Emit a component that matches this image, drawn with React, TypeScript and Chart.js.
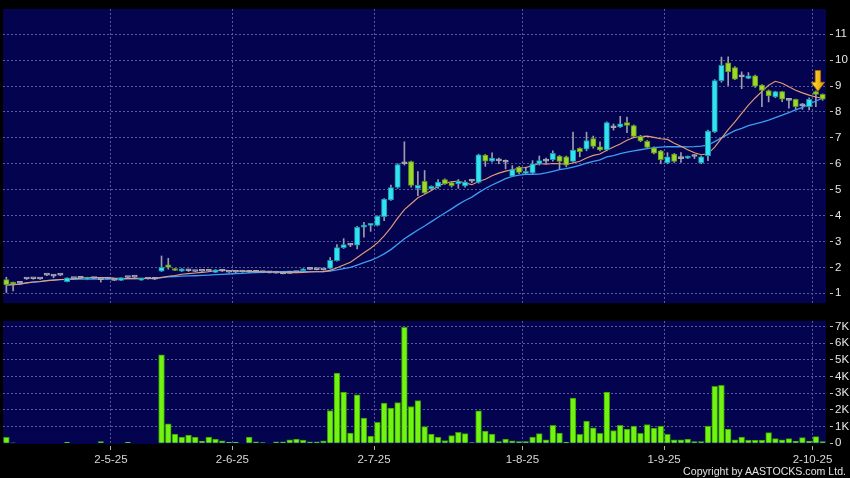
import React, { useEffect, useRef } from "react";
import { Chart, registerables } from "chart.js";

Chart.register(...registerables);

// ---- data ----
const opens = [
  1.53, 1.42, 1.38, 1.55, 1.56, 1.55, 1.70, 1.66, 1.70, 1.45,
  1.57, 1.58, 1.53, 1.57, 1.52, 1.55, 1.50, 1.50, 1.61, 1.62,
  1.51, 1.55, 1.54, 1.85, 2.10, 1.94, 1.85, 1.87, 1.84, 1.85,
  1.85, 1.80, 1.85, 1.81, 1.81, 1.82, 1.81, 1.81, 1.80, 1.79,
  1.78, 1.76, 1.77, 1.80, 1.87, 1.92, 1.91, 1.90, 1.96, 2.26,
  2.76, 2.86, 2.86, 3.55, 3.62, 3.62, 3.96, 4.60, 5.09, 6.00,
  6.08, 5.05, 5.32, 5.03, 5.12, 5.39, 5.27, 5.22, 5.14, 5.33,
  5.28, 6.34, 6.10, 6.11, 6.06, 5.52, 5.87, 5.63, 5.65, 5.98,
  6.10, 6.16, 6.30, 6.27, 6.09, 6.60, 6.56, 6.97, 6.65, 6.53,
  7.39, 7.42, 7.59, 7.47, 7.06, 6.87, 6.62, 6.50, 6.03, 6.37,
  6.20, 6.22, 6.28, 6.03, 6.31, 7.23, 9.21, 9.90, 9.71, 9.36,
  9.30, 9.40, 9.04, 8.83, 8.58, 8.79, 8.45, 8.49, 8.24, 8.20,
  8.79, 8.68,
];
const highs = [
  1.62, 1.43, 1.40, 1.56, 1.57, 1.56, 1.71, 1.70, 1.71, 1.60,
  1.58, 1.59, 1.62, 1.58, 1.55, 1.56, 1.51, 1.60, 1.62, 1.63,
  1.58, 1.56, 1.55, 2.44, 2.35, 1.96, 1.95, 1.93, 1.85, 1.86,
  1.87, 1.91, 1.90, 1.82, 1.82, 1.83, 1.83, 1.82, 1.81, 1.80,
  1.79, 1.77, 1.78, 1.81, 1.95, 1.93, 1.92, 1.91, 2.38, 2.88,
  3.11, 2.92, 3.58, 3.74, 3.70, 3.99, 4.66, 5.18, 6.00, 6.85,
  6.10, 5.70, 5.74, 5.15, 5.39, 5.42, 5.30, 5.39, 5.35, 5.39,
  6.37, 6.36, 6.42, 6.22, 6.15, 5.93, 5.90, 5.87, 6.12, 6.30,
  6.22, 6.50, 6.32, 6.30, 7.22, 6.62, 7.22, 7.07, 6.85, 7.62,
  7.54, 7.83, 7.80, 7.50, 7.10, 6.90, 6.65, 6.52, 6.43, 6.40,
  6.43, 6.30, 6.36, 6.30, 7.30, 9.25, 10.12, 10.13, 9.75, 9.55,
  9.52, 9.42, 9.06, 8.85, 8.80, 8.80, 8.52, 8.50, 8.33, 8.55,
  8.82, 8.70,
];
const lows = [
  1.03, 1.09, 1.36, 1.53, 1.54, 1.53, 1.68, 1.60, 1.68, 1.44,
  1.56, 1.57, 1.52, 1.56, 1.43, 1.54, 1.49, 1.49, 1.60, 1.61,
  1.50, 1.54, 1.53, 1.84, 1.93, 1.87, 1.84, 1.84, 1.83, 1.84,
  1.84, 1.80, 1.84, 1.80, 1.80, 1.81, 1.79, 1.80, 1.79, 1.78,
  1.77, 1.75, 1.76, 1.79, 1.86, 1.91, 1.90, 1.89, 1.94, 2.24,
  2.73, 2.80, 2.71, 3.17, 3.39, 3.60, 3.80, 4.58, 5.05, 5.95,
  5.10, 4.77, 4.85, 4.98, 5.05, 5.20, 5.10, 5.05, 5.10, 5.27,
  5.25, 5.90, 6.06, 6.00, 5.80, 5.50, 5.62, 5.60, 5.62, 5.95,
  6.00, 6.10, 5.80, 5.88, 6.05, 6.27, 6.50, 6.60, 6.50, 6.50,
  7.30, 7.40, 7.20, 7.00, 6.85, 6.60, 6.38, 6.00, 6.00, 6.05,
  6.05, 6.20, 6.20, 6.00, 6.12, 7.20, 9.15, 9.02, 9.25, 8.90,
  9.28, 8.95, 8.20, 8.39, 8.55, 8.40, 8.15, 8.10, 8.10, 8.08,
  8.20, 8.45,
];
const closes = [
  1.32, 1.35, 1.38, 1.55, 1.56, 1.55, 1.70, 1.66, 1.70, 1.60,
  1.57, 1.58, 1.61, 1.57, 1.52, 1.55, 1.50, 1.60, 1.61, 1.62,
  1.58, 1.55, 1.54, 2.00, 2.00, 1.88, 1.94, 1.87, 1.84, 1.85,
  1.85, 1.90, 1.85, 1.81, 1.81, 1.82, 1.81, 1.81, 1.80, 1.79,
  1.78, 1.76, 1.77, 1.80, 1.94, 1.92, 1.91, 1.90, 2.27, 2.76,
  2.88, 2.86, 3.55, 3.63, 3.68, 3.98, 4.64, 5.08, 5.97, 6.00,
  5.16, 5.17, 4.87, 5.13, 5.29, 5.22, 5.15, 5.33, 5.29, 5.33,
  6.35, 6.10, 6.22, 6.11, 6.06, 5.78, 5.67, 5.67, 6.00, 6.12,
  6.10, 6.40, 6.09, 5.95, 6.53, 6.47, 6.90, 6.67, 6.53, 7.59,
  7.39, 7.54, 7.48, 7.06, 6.88, 6.63, 6.41, 6.16, 6.27, 6.09,
  6.20, 6.27, 6.28, 6.27, 7.26, 9.21, 9.80, 9.55, 9.27, 9.36,
  9.40, 9.00, 8.83, 8.62, 8.79, 8.49, 8.45, 8.20, 8.24, 8.49,
  8.68, 8.49,
];
// volume in thousands
const volumes = [
  0.35, 0.02, 0, 0, 0, 0, 0, 0, 0, 0.06,
  0, 0, 0, 0, 0.1, 0, 0, 0, 0.06, 0,
  0, 0, 0, 5.3, 1.16, 0.55, 0.37, 0.49, 0.37, 0.12,
  0.37, 0.24, 0.14, 0.06, 0.06, 0, 0.37, 0.08, 0.04, 0,
  0.08, 0.08, 0.2, 0.25, 0.18, 0.08, 0.08, 0.14, 1.96, 4.2,
  3.06, 0.6, 2.9, 1.5, 0.43, 1.25, 2.4, 2.1, 2.43, 6.94,
  2.2, 2.55, 1.0, 0.55, 0.37, 0.16, 0.45, 0.65, 0.57, 0.04,
  1.94, 0.72, 0.55, 0.1, 0.24, 0.14, 0.1, 0.1, 0.37, 0.57,
  0.2, 1.07, 0.6, 0.06, 2.7, 0.53, 1.33, 0.92, 0.59, 3.06,
  0.76, 1.07, 0.84, 1.03, 0.59, 1.12, 0.9, 1.03, 0.53, 0.2,
  0.2, 0.24, 0.1, 0.1, 1.02, 3.4, 3.47, 0.84, 0.2, 0.37,
  0.18, 0.18, 0.18, 0.63, 0.27, 0.2, 0.27, 0.12, 0.33, 0.12,
  0.39, 0.1,
];
// index of the first trading day of each labelled month
const monthStartIndex = [16, 34, 55, 77, 98, 120];
const monthLabels = ["2-5-25", "2-6-25", "2-7-25", "1-8-25", "1-9-25", "2-10-25"];
const priceTicks = [1, 2, 3, 4, 5, 6, 7, 8, 9, 10, 11];
const volumeTicks = [0, 1, 2, 3, 4, 5, 6, 7];
const volumeTickLabels = ["0", "1K", "2K", "3K", "4K", "5K", "6K", "7K"];
const shortPeriod = 10;
const longPeriod = 20;
const marker = { index: 120.3, top: 9.6, neck: 9.15, tip: 8.8 };
const copyright = "Copyright by AASTOCKS.com Ltd.";

// ---- styles ----
const FONT = "'Liberation Sans', Arial, sans-serif";
const NAVY = "#03034f";
const GRID = "#5a5a98";
const UP_FILL = "#33e2f0";
const UP_EDGE = "#1796a8";
const DOWN_FILL = "#9ed82c";
const DOWN_EDGE = "#5c9618";
const FLAT = "#a6a6b6";
const WICK = "#9c9cac";
const MA_SHORT = "#e89c78";
const MA_LONG = "#3d9df2";
const VOL_FILL = "#70f410";
const VOL_EDGE = "#389606";
const LABEL = "#e6e6e6";

function movingAverage(values: number[], period: number) {
  return values.map((_, i) => {
    const from = Math.max(0, i - period + 1);
    let s = 0;
    for (let k = from; k <= i; k++) s += values[k];
    return s / (i - from + 1);
  });
}

const bgPlugin = {
  id: "panelBg",
  beforeDraw(chart: any) {
    const { ctx, chartArea } = chart;
    ctx.save();
    ctx.fillStyle = NAVY;
    ctx.fillRect(chartArea.left, chartArea.top, chartArea.right - chartArea.left, chartArea.bottom - chartArea.top);
    ctx.restore();
  },
};

const markerPlugin = {
  id: "marker",
  afterDatasetsDraw(chart: any) {
    const { ctx, scales } = chart;
    const cx = scales.x.getPixelForValue(marker.index);
    const yTop = scales.y.getPixelForValue(marker.top);
    const yNeck = scales.y.getPixelForValue(marker.neck);
    const yTip = scales.y.getPixelForValue(marker.tip);
    const shaft = 2.7;
    const head = 6.8;
    ctx.save();
    const g = ctx.createLinearGradient(cx - head, 0, cx + head, 0);
    g.addColorStop(0, "#ffe23a");
    g.addColorStop(1, "#e49a00");
    ctx.beginPath();
    ctx.moveTo(cx - shaft, yTop);
    ctx.lineTo(cx + shaft, yTop);
    ctx.lineTo(cx + shaft, yNeck);
    ctx.lineTo(cx + head, yNeck);
    ctx.lineTo(cx, yTip);
    ctx.lineTo(cx - head, yNeck);
    ctx.lineTo(cx - shaft, yNeck);
    ctx.closePath();
    ctx.fillStyle = g;
    ctx.fill();
    ctx.lineWidth = 0.8;
    ctx.strokeStyle = "#a87000";
    ctx.stroke();
    ctx.restore();
  },
};

export default function App() {
  const priceRef = useRef<HTMLCanvasElement | null>(null);
  const volRef = useRef<HTMLCanvasElement | null>(null);

  useEffect(() => {
    const n = closes.length;
    const idx = closes.map((_, i) => i);
    const kind = idx.map((i) => (closes[i] > opens[i] ? "up" : closes[i] < opens[i] ? "down" : "flat"));
    const maShort = movingAverage(closes, shortPeriod);
    const maLong = movingAverage(closes, longPeriod);

    const xMin = -0.5;
    const xMax = n - 0.5;
    const monthBounds = monthStartIndex.map((i) => i - 0.5);

    const gridCommon = { color: GRID, lineWidth: 1, offset: false };
    const yTickMarks = {
      drawTicks: true,
      tickLength: 7,
      tickColor: "#c0c0c0",
      tickBorderDash: [0, 4, 3, 30],
    };

    const priceChart = new Chart(priceRef.current as HTMLCanvasElement, {
      type: "bar",
      data: {
        datasets: [
          {
            type: "bar",
            data: idx.map((i) => ({ x: i, y: [lows[i], highs[i]] })) as any,
            backgroundColor: WICK,
            borderWidth: 0,
            barThickness: 1,
            grouped: false,
            order: 4,
          } as any,
          {
            type: "line",
            data: idx.map((i) => ({ x: i, y: maLong[i] })),
            borderColor: MA_LONG,
            borderWidth: 1.3,
            pointRadius: 0,
            tension: 0,
            order: 3,
          } as any,
          {
            type: "line",
            data: idx.map((i) => ({ x: i, y: maShort[i] })),
            borderColor: MA_SHORT,
            borderWidth: 1.1,
            pointRadius: 0,
            tension: 0,
            order: 2,
          } as any,
          {
            type: "bar",
            data: idx.map((i) => ({ x: i, y: [opens[i], closes[i]] })) as any,
            backgroundColor: kind.map((k) => (k === "up" ? UP_FILL : k === "down" ? DOWN_FILL : FLAT)),
            borderColor: kind.map((k) => (k === "up" ? UP_EDGE : k === "down" ? DOWN_EDGE : FLAT)),
            borderWidth: 1,
            borderSkipped: false,
            barThickness: 5.4,
            minBarLength: 2,
            grouped: false,
            order: 1,
          } as any,
        ],
      },
      options: {
        responsive: false,
        animation: false,
        devicePixelRatio: 1,
        events: [],
        layout: { padding: { left: 3, top: 5, right: 0, bottom: 6 } },
        plugins: { legend: { display: false }, tooltip: { enabled: false } },
        scales: {
          x: {
            type: "linear",
            min: xMin,
            max: xMax,
            offset: false,
            afterBuildTicks: (s: any) => {
              s.ticks = monthBounds.map((v) => ({ value: v }));
            },
            afterFit: (s: any) => {
              s.height = 0;
            },
            ticks: { display: false },
            grid: { ...gridCommon, drawTicks: false },
            border: { display: false, dash: [2, 2] },
          },
          y: {
            type: "linear",
            position: "right",
            min: 0.62,
            max: 11.98,
            afterBuildTicks: (s: any) => {
              s.ticks = priceTicks.map((v) => ({ value: v }));
            },
            afterFit: (s: any) => {
              s.width = 24;
            },
            ticks: {
              color: LABEL,
              font: { family: FONT, size: 11.5 },
              padding: 2,
              callback: (v: any) => String(v),
            },
            grid: { ...gridCommon, ...yTickMarks },
            border: { display: false, dash: [2, 2] },
          },
        },
      } as any,
      plugins: [bgPlugin, markerPlugin],
    });

    const volChart = new Chart(volRef.current as HTMLCanvasElement, {
      type: "bar",
      data: {
        datasets: [
          {
            data: idx.map((i) => ({ x: i, y: volumes[i] })),
            backgroundColor: VOL_FILL,
            borderColor: VOL_EDGE,
            borderWidth: 1,
            borderSkipped: "start",
            barThickness: 5.8,
            grouped: false,
          } as any,
        ],
      },
      options: {
        responsive: false,
        animation: false,
        devicePixelRatio: 1,
        events: [],
        layout: { padding: { left: 3, top: 6, right: 0, bottom: 0 } },
        plugins: { legend: { display: false }, tooltip: { enabled: false } },
        scales: {
          x: {
            type: "linear",
            min: xMin,
            max: xMax,
            offset: false,
            afterBuildTicks: (s: any) => {
              s.ticks = monthBounds.map((v) => ({ value: v }));
            },
            afterFit: (s: any) => {
              s.height = 34;
            },
            ticks: {
              autoSkip: false,
              maxRotation: 0,
              color: "#d8d8d8",
              padding: 3,
              font: { family: FONT, size: 11.5 },
              callback: (_v: any, i: number) => monthLabels[i],
            },
            grid: {
              ...gridCommon,
              drawTicks: true,
              tickLength: 6,
              tickColor: "#b0b0b0",
              tickBorderDash: [0, 2, 4, 30],
            },
            border: { display: false, dash: [2, 2] },
          },
          y: {
            type: "linear",
            position: "right",
            min: -0.05,
            max: 7.33,
            afterBuildTicks: (s: any) => {
              s.ticks = volumeTicks.map((v) => ({ value: v }));
            },
            afterFit: (s: any) => {
              s.width = 24;
            },
            ticks: {
              color: LABEL,
              font: { family: FONT, size: 11.5 },
              padding: 2,
              callback: (_v: any, i: number) => volumeTickLabels[i],
            },
            grid: {
              ...gridCommon,
              ...yTickMarks,
              color: (c: any) => (c.tick && c.tick.value === 0 ? "rgba(0,0,0,0)" : GRID),
            },
            border: { display: false, dash: [2, 2] },
          },
        },
      } as any,
      plugins: [bgPlugin],
    });

    return () => {
      priceChart.destroy();
      volChart.destroy();
    };
  }, []);

  return (
    <div
      style={{
        position: "fixed",
        left: 0,
        top: 0,
        width: 850,
        height: 478,
        background: "#000",
        overflow: "hidden",
      }}
    >
      <canvas ref={priceRef} width={850} height={312} style={{ position: "absolute", left: 0, top: 0, width: 850, height: 312 }} />
      <canvas ref={volRef} width={850} height={166} style={{ position: "absolute", left: 0, top: 312, width: 850, height: 166 }} />
      <div
        style={{
          position: "absolute",
          right: 4,
          top: 465,
          fontFamily: FONT,
          fontSize: 10.6,
          color: "#e2e2e2",
          whiteSpace: "nowrap",
          lineHeight: "13px",
        }}
      >
        {copyright}
      </div>
    </div>
  );
}
